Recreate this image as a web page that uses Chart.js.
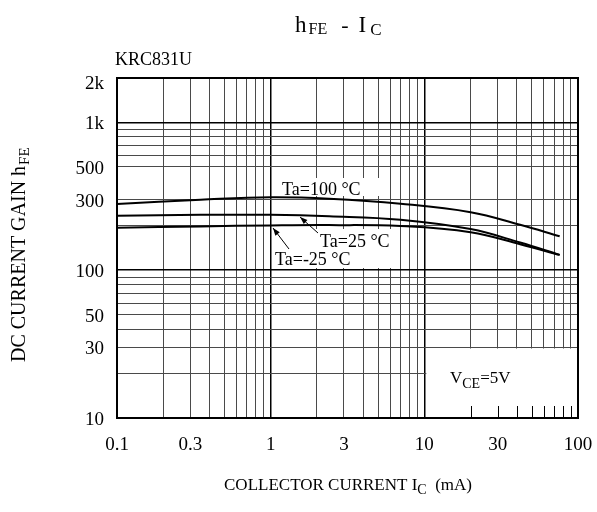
<!DOCTYPE html>
<html>
<head>
<meta charset="utf-8">
<script src="https://cdn.jsdelivr.net/npm/chart.js@4"></script>
<style>
  html, body { margin: 0; padding: 0; background: #fff; }
  canvas { display: block; }
</style>
</head>
<body>
<canvas id="c" width="597" height="512"></canvas>
<script>
// ---- data ----
const collectorCurrent = [0.1, 0.35, 1, 2.4, 7, 20, 42, 76];      // mA
const hfeTa100  = [281, 300, 312, 305, 282, 247, 203, 170];
const hfeTa25   = [234, 237, 237, 232, 220, 190, 154, 127];
const hfeTaM25  = [194, 198, 201, 202, 199, 181, 150, 127];

const xTickValues = [0.1, 0.3, 1, 3, 10, 30, 100];
const xTickLabels = ['0.1', '0.3', '1', '3', '10', '30', '100'];
const yTickValues = [10, 30, 50, 100, 300, 500, 1000, 2000];
const yTickLabels = ['10', '30', '50', '100', '300', '500', '1k', '2k'];

const xGrid = [0.1,0.2,0.3,0.4,0.5,0.6,0.7,0.8,0.9,1,2,3,4,5,6,7,8,9,10,20,30,40,50,60,70,80,90,100];
const yGrid = [10,20,30,40,50,60,70,80,90,100,200,300,500,600,700,800,900,1000,2000];
const boxMinorTicks = [20,30,40,50,60,70,80,90];

const SERIF = '"Liberation Serif", "Times New Roman", serif';

function isDecade(v) {
  const l = Math.log10(v);
  return Math.abs(l - Math.round(l)) < 1e-9;
}
function pts(ys) { return collectorCurrent.map((x, i) => ({ x: x, y: ys[i] })); }

function txt(ctx, s, x, y, size, align) {
  ctx.font = size + 'px ' + SERIF;
  ctx.textAlign = align || 'left';
  ctx.fillText(s, x, y);
  return ctx.measureText(s).width;
}

const decor = {
  id: 'decor',
  beforeDatasetsDraw(chart) {
    const ctx = chart.ctx, xs = chart.scales.x, ys = chart.scales.y;
    ctx.save();
    ctx.fillStyle = '#fff';
    // VCE box (x 10..100, y 10..30)
    const bx0 = xs.getPixelForValue(10) + 2, bx1 = xs.getPixelForValue(100);
    const by0 = ys.getPixelForValue(30) + 1, by1 = ys.getPixelForValue(10);
    ctx.fillRect(bx0, by0, bx1 - bx0, by1 - by0);
    // label backgrounds
    ctx.fillRect(274, 178, 107, 18);
    ctx.fillRect(274, 229, 118, 39);
    // minor ticks along bottom of the VCE box
    ctx.strokeStyle = '#000';
    ctx.lineWidth = 1;
    boxMinorTicks.forEach(v => {
      const px = Math.round(xs.getPixelForValue(v)) + 0.5;
      ctx.beginPath(); ctx.moveTo(px, by1); ctx.lineTo(px, by1 - 12); ctx.stroke();
    });
    ctx.restore();
  },
  afterDatasetsDraw(chart) {
    const ctx = chart.ctx, xs = chart.scales.x, ys = chart.scales.y, a = chart.chartArea;
    ctx.save();
    // frame
    ctx.strokeStyle = '#000';
    ctx.lineWidth = 2;
    ctx.strokeRect(a.left, a.top, a.right - a.left, a.bottom - a.top);

    ctx.fillStyle = '#000';
    ctx.textBaseline = 'alphabetic';
    // tick labels
    xTickValues.forEach((v, i) => {
      txt(ctx, xTickLabels[i], xs.getPixelForValue(v), 450, 19, 'center');
    });
    ctx.textBaseline = 'middle';
    yTickValues.forEach((v, i) => {
      const py = Math.max(ys.getPixelForValue(v) + 2, 84);
      txt(ctx, yTickLabels[i], 104, py, 19, 'right');
    });
    ctx.textBaseline = 'alphabetic';

    // title  hFE - IC
    let x = 295;
    x += txt(ctx, 'h', x, 32, 23);
    x += 2;
    x += txt(ctx, 'FE', x, 34, 16);
    x += 14;
    x += txt(ctx, '-', x, 32, 22);
    x += 10;
    x += txt(ctx, 'I', x, 32, 23);
    x += 4;
    txt(ctx, 'C', x, 35, 17);

    // device name
    txt(ctx, 'KRC831U', 115, 65, 18);

    // x-axis title
    ctx.font = '17px ' + SERIF;
    const p1 = 'COLLECTOR CURRENT I', p3 = '  (mA)';
    const w1 = ctx.measureText(p1).width, w3 = ctx.measureText(p3).width;
    ctx.font = '14px ' + SERIF;
    const w2 = ctx.measureText('C').width;
    let sx = 348 - (w1 + w2 + w3) / 2;
    sx += txt(ctx, p1, sx, 490, 17);
    sx += txt(ctx, 'C', sx, 494, 14);
    txt(ctx, p3, sx, 490, 17);

    // y-axis title (rotated)
    ctx.save();
    ctx.translate(25, 362);
    ctx.rotate(-Math.PI / 2);
    let ty = 0;
    ty += txt(ctx, 'DC CURRENT GAIN h', ty, 0, 20);
    txt(ctx, 'FE', ty + 1, 4, 15);
    ctx.restore();

    // curve labels
    txt(ctx, 'Ta=100 \u00B0C', 282, 195, 18);
    txt(ctx, 'Ta=25 \u00B0C', 320, 247, 18);
    txt(ctx, 'Ta=-25 \u00B0C', 275, 265, 18);

    // arrows
    function arrow(x0, y0, x1, y1) {
      ctx.strokeStyle = '#000';
      ctx.lineWidth = 1;
      ctx.beginPath(); ctx.moveTo(x0, y0); ctx.lineTo(x1, y1); ctx.stroke();
      const ang = Math.atan2(y1 - y0, x1 - x0), L = 8, W = 0.35;
      ctx.beginPath();
      ctx.moveTo(x1, y1);
      ctx.lineTo(x1 - L * Math.cos(ang - W), y1 - L * Math.sin(ang - W));
      ctx.lineTo(x1 - L * Math.cos(ang + W), y1 - L * Math.sin(ang + W));
      ctx.closePath(); ctx.fill();
    }
    arrow(318, 233, 300, 217);
    arrow(289, 249, 273, 228);

    // VCE=5V
    let vx = 450;
    vx += txt(ctx, 'V', vx, 383, 17);
    vx += txt(ctx, 'CE', vx, 388, 14);
    txt(ctx, '=5V', vx, 383, 17);
    ctx.restore();
  }
};

const lineStyle = {
  borderColor: '#000', borderWidth: 2, pointRadius: 0, fill: false,
  cubicInterpolationMode: 'default', tension: 0.4
};

new Chart(document.getElementById('c'), {
  type: 'line',
  data: {
    datasets: [
      Object.assign({ label: 'Ta=100 °C', data: pts(hfeTa100) }, lineStyle),
      Object.assign({ label: 'Ta=25 °C', data: pts(hfeTa25) }, lineStyle),
      Object.assign({ label: 'Ta=-25 °C', data: pts(hfeTaM25) }, lineStyle)
    ]
  },
  options: {
    responsive: false,
    animation: false,
    devicePixelRatio: 1,
    layout: { padding: { left: 117, right: 19, top: 78, bottom: 94 } },
    plugins: { legend: { display: false }, tooltip: { enabled: false }, title: { display: false } },
    scales: {
      x: {
        type: 'logarithmic', min: 0.1, max: 100,
        afterBuildTicks: s => { s.ticks = xGrid.map(v => ({ value: v })); },
        afterFit: s => { s.height = 0; },
        ticks: { display: false, autoSkip: false },
        border: { display: false },
        grid: {
          drawTicks: false,
          color: c => isDecade(c.tick.value) ? '#000' : '#4a4a4a',
          lineWidth: c => isDecade(c.tick.value) ? 1.5 : 1
        }
      },
      y: {
        type: 'logarithmic', min: 10, max: 2000,
        afterBuildTicks: s => { s.ticks = yGrid.map(v => ({ value: v })); },
        afterFit: s => { s.width = 0; },
        ticks: { display: false, autoSkip: false },
        border: { display: false },
        grid: {
          drawTicks: false,
          color: c => isDecade(c.tick.value) ? '#000' : '#4a4a4a',
          lineWidth: c => isDecade(c.tick.value) ? 1.5 : 1
        }
      }
    }
  },
  plugins: [decor]
});
</script>
</body>
</html>
